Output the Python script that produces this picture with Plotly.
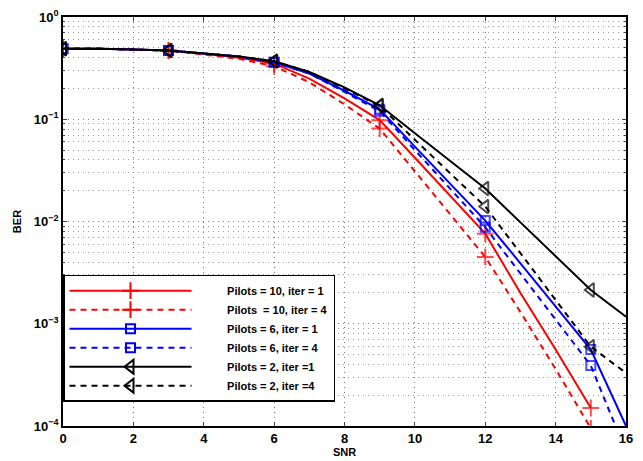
import plotly.graph_objects as go

snr = list(range(0, 17))
snr_red = list(range(0, 16))

ber_p10_i1 = [0.49, 0.49, 0.48, 0.47, 0.44, 0.40, 0.35, 0.25, 0.16, 0.098, 0.042, 0.018, 0.0076, 0.0020, 0.00056, 0.00015]
ber_p10_i4 = [0.49, 0.49, 0.48, 0.47, 0.43, 0.39, 0.33, 0.23, 0.14, 0.081, 0.031, 0.0118, 0.0045, 0.0013, 0.00036, 0.000095]
ber_p6_i1 = [0.49, 0.49, 0.48, 0.47, 0.44, 0.41, 0.36, 0.28, 0.19, 0.125, 0.054, 0.0236, 0.0102, 0.0039, 0.00148, 0.00056, 0.0001]
ber_p6_i4 = [0.49, 0.49, 0.48, 0.47, 0.44, 0.41, 0.36, 0.28, 0.185, 0.12, 0.050, 0.021, 0.0088, 0.0031, 0.0011, 0.00039, 0.000056]
ber_p2_i1 = [0.49, 0.49, 0.48, 0.47, 0.44, 0.41, 0.37, 0.29, 0.205, 0.137, 0.073, 0.039, 0.021, 0.0098, 0.0046, 0.00214, 0.00117]
ber_p2_i4 = [0.49, 0.49, 0.48, 0.47, 0.44, 0.41, 0.37, 0.29, 0.20, 0.135, 0.063, 0.030, 0.014, 0.0049, 0.0017, 0.000596, 0.00033]

labels = ["Pilots = 10, iter = 1", "Pilots &nbsp;= 10, iter = 4", "Pilots = 6, iter = 1",
          "Pilots = 6, iter = 4", "Pilots = 2, iter =1", "Pilots = 2, iter =4"]

x_ticks = [0, 2, 4, 6, 8, 10, 12, 14, 16]
y_tickvals = [1, 0.1, 0.01, 0.001, 0.0001]
y_ticktext = ["10<sup>0</sup>", "10<sup>−1</sup>", "10<sup>−2</sup>", "10<sup>−3</sup>", "10<sup>−4</sup>"]

# minor log grid positions (2..9 within each decade)
minor_vals = [m * 10.0 ** e for e in range(-4, 0) for m in range(2, 10)]

series = [
    (snr_red, ber_p10_i1, labels[0], "#ff0000", "solid", "cross-thin-open", 12),
    (snr_red, ber_p10_i4, labels[1], "#ff0000", "6px,5px", "cross-thin-open", 12),
    (snr, ber_p6_i1, labels[2], "#0000ff", "solid", "square-open", 9),
    (snr, ber_p6_i4, labels[3], "#0000ff", "6px,5px", "square-open", 9),
    (snr, ber_p2_i1, labels[4], "#000000", "solid", "triangle-left-open", 12),
    (snr, ber_p2_i4, labels[5], "#000000", "6px,5px", "triangle-left-open", 12),
]

pad = "&nbsp;" * 10
fig = go.Figure()
for xs, ys, name, color, dash, sym, msize in series:
    sizes = [msize if (x % 3 == 0 and x <= 15) else 0 for x in xs]
    fig.add_trace(go.Scatter(
        x=xs, y=ys, mode="lines+markers", showlegend=False,
        line=dict(color=color, width=2, dash=dash),
        marker=dict(symbol=sym, size=sizes, color=color, line=dict(width=2, color=color)),
    ))
for xs, ys, name, color, dash, sym, msize in series:
    fig.add_trace(go.Scatter(
        x=[None], y=[None], name=pad + name, mode="lines+markers",
        line=dict(color=color, width=2, dash=dash),
        marker=dict(symbol=sym, size=msize, color=color, line=dict(width=2, color=color)),
    ))

font_family = "Liberation Sans, Arial, sans-serif"
fig.update_layout(
    width=643, height=461,
    margin=dict(l=63, r=17, t=17, b=35),
    paper_bgcolor="white", plot_bgcolor="white",
    font=dict(family=font_family, size=12, color="black"),
    legend=dict(
        x=0.0, y=0.37, xanchor="left", yanchor="top",
        bgcolor="white", bordercolor="black", borderwidth=1.5,
        font=dict(family=font_family, size=11, color="black", weight="bold"),
        itemwidth=122, tracegroupgap=0,
    ),
    xaxis=dict(
        range=[0, 16], tickvals=x_ticks, ticks="inside", ticklen=4,
        showline=True, linecolor="black", linewidth=1.5, mirror="ticks",
        showgrid=True, gridcolor="#777777", griddash="1px,4px", gridwidth=1,
        zeroline=False, automargin=False,
        tickfont=dict(size=13, weight="bold"),
        title=dict(text="SNR", font=dict(size=11, weight="bold"), standoff=2),
    ),
    yaxis=dict(
        type="log", range=[-4, 0], tickvals=y_tickvals, ticktext=y_ticktext,
        ticks="inside", ticklen=4,
        showline=True, linecolor="black", linewidth=1.5, mirror="ticks",
        showgrid=True, gridcolor="#777777", griddash="1px,4px", gridwidth=1,
        zeroline=False, automargin=False,
        tickfont=dict(size=13, weight="bold"),
        title=dict(text="BER", font=dict(size=11, weight="bold"), standoff=10),
        minor=dict(tickvals=minor_vals, ticks="inside", ticklen=2, showgrid=True,
                   gridcolor="#999999", griddash="1px,4px", gridwidth=1),
    ),
)

fig.write_html("out.html", config={"displayModeBar": False},
               post_script="document.body.style.margin='0';document.body.style.overflow='hidden';")
